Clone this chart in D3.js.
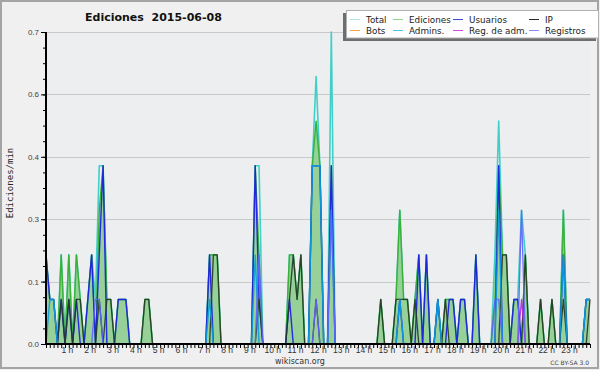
<!DOCTYPE html>
<html><head><meta charset="utf-8">
<script src="https://cdn.jsdelivr.net/npm/d3@7"></script>
<style>
html,body{margin:0;padding:0;background:#f0f0f0;}
svg{display:block;}
</style></head><body>
<svg id="chart" width="600" height="370"></svg>
<script>
// ---- data: edits per minute, one value per 10-minute bucket (144 buckets) ----
const hourLabels = ["1 h","2 h","3 h","4 h","5 h","6 h","7 h","8 h","9 h","10 h","11 h","12 h",
  "13 h","14 h","15 h","16 h","17 h","18 h","19 h","20 h","21 h","22 h","23 h"];
const yTickValues = [0, 0.14, 0.28, 0.42, 0.56, 0.7];
const seriesNames = ["Total","Ediciones","Usuarios","IP","Bots","Admins.","Reg. de adm.","Registros"];

const total = [
 0.2,0.1,0.1,0,0.2,0,   0.2,0,0.2,0.1,0,0.1,   0.2,0.1,0.4,0.4,0.1,0.1, 0,0.1,0.1,0.1,0,0,
 0,0,0.1,0.1,0,0,       0,0,0,0,0,0,           0,0,0,0,0,0,             0,0.2,0.2,0.2,0,0,
 0,0,0,0,0,0,           0,0.4,0.4,0,0,0,       0,0,0,0,0.2,0.2,         0.1,0.2,0,0,0.4,0.6,
 0.4,0,0,0.7,0,0,       0,0,0,0,0,0,           0,0,0,0,0.1,0,           0,0,0.1,0.3,0.1,0.1,
 0,0.1,0.2,0,0.2,0,     0,0.1,0,0.1,0.1,0.1,   0,0.1,0.1,0,0,0.2,       0,0,0,0,0.2,0.5,
 0.2,0.2,0,0.1,0.1,0.3, 0.2,0,0,0,0.1,0,       0,0.1,0,0,0.3,0,         0,0,0,0,0.1,0.1];
const ediciones = [
 0.2,0.1,0.1,0,0.2,0,   0.2,0,0.2,0.1,0,0.1,   0.2,0,0.3,0.4,0.1,0.1,   0,0.1,0.1,0.1,0,0,
 0,0,0.1,0.1,0,0,       0,0,0,0,0,0,           0,0,0,0,0,0,             0,0.2,0.2,0.2,0,0,
 0,0,0,0,0,0,           0,0.4,0.2,0,0,0,       0,0,0,0,0.2,0.2,         0.1,0.2,0,0,0.4,0.5,
 0.4,0,0,0.4,0,0,       0,0,0,0,0,0,           0,0,0,0,0.1,0,           0,0,0.1,0.3,0.1,0.1,
 0,0.1,0.2,0,0.2,0,     0,0.1,0,0.1,0.1,0.1,   0,0.1,0.1,0,0,0.2,       0,0,0,0,0.1,0.4,
 0.2,0.2,0,0.1,0.1,0,   0.2,0,0,0,0.1,0,       0,0.1,0,0,0.3,0,         0,0,0,0,0.1,0.1];
const usuarios = [
 0.2,0.1,0.1,0,0.1,0,   0.1,0,0.1,0,0,0.1,     0.2,0,0.2,0.4,0,0,       0,0.1,0.1,0.1,0,0,
 0,0,0,0,0,0,           0,0,0,0,0,0,           0,0,0,0,0,0,             0,0.2,0,0,0,0,
 0,0,0,0,0,0,           0,0.4,0.1,0,0,0,       0,0,0,0,0.1,0,           0,0,0,0,0.4,0.4,
 0.4,0,0,0.4,0,0,       0,0,0,0,0,0,           0,0,0,0,0,0,             0,0,0,0.1,0,0,
 0,0,0.2,0,0.2,0,       0,0.1,0,0,0.1,0.1,     0,0.1,0.1,0,0,0.2,       0,0,0,0,0,0.4,
 0,0,0,0.1,0.1,0,       0,0,0,0,0,0,           0,0,0,0,0.2,0,           0,0,0,0,0.1,0.1];
const ip = [
 0,0,0,0,0.1,0,         0.1,0,0.1,0.1,0,0,     0,0,0.1,0,0.1,0.1,       0,0,0,0,0,0,
 0,0,0.1,0.1,0,0,       0,0,0,0,0,0,           0,0,0,0,0,0,             0,0,0.2,0.2,0,0,
 0,0,0,0,0,0,           0,0,0.1,0,0,0,         0,0,0,0,0.1,0.2,         0.1,0.2,0,0,0,0.1,
 0,0,0,0,0,0,           0,0,0,0,0,0,           0,0,0,0,0.1,0,           0,0,0.1,0.1,0.1,0.1,
 0,0.1,0,0,0,0,         0,0,0,0.1,0,0,         0,0,0,0,0,0,             0,0,0,0,0,0,
 0.2,0.2,0,0,0,0,       0.2,0,0,0,0.1,0,       0,0.1,0,0,0.1,0,         0,0,0,0,0,0.1];
const bots = [
 0,0,0,0,0,0, 0,0,0,0,0,0, 0,0,0,0,0,0, 0,0,0,0,0,0,
 0,0,0,0,0,0, 0,0,0,0,0,0, 0,0,0,0,0,0, 0,0,0,0,0,0,
 0,0,0,0,0,0, 0,0,0,0,0,0, 0,0,0,0,0,0, 0,0,0,0,0,0,
 0,0,0,0,0,0, 0,0,0,0,0,0, 0,0,0,0,0,0, 0,0,0,0,0,0,
 0,0,0,0,0,0, 0,0,0,0,0,0, 0,0,0,0,0,0, 0,0,0,0,0,0,
 0,0,0,0,0,0, 0,0,0,0,0,0, 0,0,0,0,0,0, 0,0,0,0,0,0];
const admins = [
 0,0.1,0.1,0,0,0,       0,0,0,0,0,0,           0,0,0,0,0,0,             0,0,0,0,0,0,
 0,0,0,0,0,0,           0,0,0,0,0,0,           0,0,0,0,0,0,             0,0.1,0,0,0,0,
 0,0,0,0,0,0,           0,0.2,0,0,0,0,         0,0,0,0,0,0,             0,0,0,0,0.4,0.4,
 0.4,0,0,0.3,0,0,       0,0,0,0,0,0,           0,0,0,0,0,0,             0,0,0,0.1,0,0,
 0,0,0,0,0,0,           0,0.1,0,0,0,0,         0,0,0,0,0,0,             0,0,0,0,0,0.3,
 0,0,0,0,0,0,           0,0,0,0,0,0,           0,0,0,0,0.2,0,           0,0,0,0,0.1,0.1];
const regAdm = [
 0,0,0,0,0,0, 0,0,0,0,0,0, 0,0,0,0,0,0, 0,0,0,0,0,0,
 0,0,0,0,0,0, 0,0,0,0,0,0, 0,0,0,0,0,0, 0,0,0,0,0,0,
 0,0,0,0,0,0, 0,0,0,0,0,0, 0,0,0,0,0,0, 0,0,0,0,0,0,
 0,0,0,0,0,0, 0,0,0,0,0,0, 0,0,0,0,0,0, 0,0,0,0,0,0,
 0,0,0,0,0,0, 0,0,0,0,0,0, 0,0,0,0,0,0, 0,0,0,0,0,0,
 0,0,0,0,0,0.1, 0,0,0,0,0,0, 0,0,0,0,0,0, 0,0,0,0,0,0];
const registros = [
 0,0,0,0,0,0,           0,0,0,0,0,0,           0,0.1,0.1,0,0,0,         0,0,0,0,0,0,
 0,0,0,0,0,0,           0,0,0,0,0,0,           0,0,0,0,0,0,             0,0,0,0,0,0,
 0,0,0,0,0,0,           0,0,0.2,0,0,0,         0,0,0,0,0,0,             0,0,0,0,0,0.1,
 0,0,0,0.3,0,0,         0,0,0,0,0,0,           0,0,0,0,0,0,             0,0,0,0,0,0,
 0,0,0,0,0,0,           0,0,0,0,0,0,           0,0,0,0,0,0,             0,0,0,0,0.1,0.1,
 0,0,0,0,0,0.3,         0,0,0,0,0,0,           0,0,0,0,0,0,             0,0,0,0,0,0];

// ---- styles ----
const lineColors = {total:"#42cfc8", ediciones:"#38b238", usuarios:"#1c1ce8", ip:"#263826",
  bots:"#f0a040", admins:"#0c9ed8", regAdm:"#b030e0", registros:"#6262ff"};
const legendColors = ["#a6e3e1","#8fd48f","#4545d8","#2a2a2a","#f2a444","#4cc6e2","#d24cdc","#8a8af0"];

const svg = d3.select("#chart");
const L = 46, R = 590, T = 32, B = 344;
const x = d3.scaleLinear().domain([0, 143]).range([L, R]);
const y = d3.scaleLinear().domain([0, 0.7]).range([B, T]);

// background + frame
svg.append("rect").attr("x",0).attr("y",0).attr("width",600).attr("height",370).attr("fill","#f0f0f0");
svg.append("rect").attr("x",1).attr("y",1).attr("width",597).attr("height",367)
  .attr("fill","none").attr("stroke","#a4a4a4").attr("stroke-width",2);
svg.append("rect").attr("x",L).attr("y",T).attr("width",R-L).attr("height",B-T).attr("fill","#edeef0");

// grid
svg.append("g").selectAll("line").data(yTickValues.filter(v => v > 0)).join("line")
  .attr("x1",L).attr("x2",R).attr("y1",d=>Math.round(y(d))+0.5).attr("y2",d=>Math.round(y(d))+0.5)
  .attr("stroke","#c9c9c9").attr("stroke-width",1);

const idx = d3.range(total.length);
const line = arr => d3.line().x(i => x(i)).y(i => y(arr[i]))(idx);

// Total
svg.append("path").attr("d", line(total)).attr("fill","none")
  .attr("stroke",lineColors.total).attr("stroke-width",1.6).attr("stroke-linejoin","round");
// Ediciones area + line
svg.append("path").attr("d", d3.area().x(i=>x(i)).y0(B).y1(i=>y(ediciones[i]))(idx))
  .attr("fill","#8fcd90").attr("fill-opacity",0.92);
svg.append("path").attr("d", line(ediciones)).attr("fill","none")
  .attr("stroke",lineColors.ediciones).attr("stroke-width",1.4).attr("stroke-linejoin","round");
// others
const others = [
  [usuarios, lineColors.usuarios, 1.4],
  [ip, lineColors.ip, 1.3],
  [bots, lineColors.bots, 1.2],
  [admins, lineColors.admins, 1.4],
  [regAdm, lineColors.regAdm, 1.3],
  [registros, lineColors.registros, 1.3]
];
others.forEach(([arr, col, w]) => {
  svg.append("path").attr("d", line(arr)).attr("fill","none")
    .attr("stroke",col).attr("stroke-width",w).attr("stroke-linejoin","round").attr("stroke-opacity",0.92);
});

// x axis: minor ticks every 10 min
const xAxis = svg.append("g").attr("transform",`translate(0,${B})`)
  .call(d3.axisBottom(x).tickValues(d3.range(0,144)).tickSize(4).tickSizeOuter(0).tickFormat(""));
xAxis.select(".domain").remove();
xAxis.selectAll(".tick line").attr("stroke","#000").attr("stroke-width",1);
// hour labels
const hourIdx = hourLabels.map((_, k) => (k + 1) * 6);
const xLab = svg.append("g").attr("transform",`translate(-2,${B})`)
  .call(d3.axisBottom(x).tickValues(hourIdx).tickSize(0).tickPadding(2.5)
    .tickFormat((d, k) => hourLabels[k]));
xLab.select(".domain").remove();
xLab.selectAll("text").attr("font-family","'Liberation Sans',Arial,sans-serif")
  .attr("font-size",8.5).attr("fill","#333");

// y axis
const yMinor = svg.append("g").attr("transform",`translate(${L},0)`)
  .call(d3.axisLeft(y).tickValues(d3.range(0,21).map(k => k*0.035)).tickSize(3).tickFormat(""));
yMinor.select(".domain").remove();
yMinor.selectAll(".tick line").attr("stroke","#000");
const yAxis = svg.append("g").attr("transform",`translate(${L},0)`)
  .call(d3.axisLeft(y).tickValues(yTickValues).tickSize(5).tickSizeOuter(0).tickPadding(2)
    .tickFormat(d3.format(".1f")));
yAxis.select(".domain").remove();
yAxis.selectAll(".tick line").attr("stroke","#000");
yAxis.selectAll("text").attr("font-family","'Liberation Sans',Arial,sans-serif")
  .attr("font-size",8).attr("fill","#444");

// axis lines
svg.append("line").attr("x1",L).attr("x2",L).attr("y1",T).attr("y2",B+1)
  .attr("stroke","#000").attr("stroke-width",2);
svg.append("line").attr("x1",L-1).attr("x2",R).attr("y1",B).attr("y2",B)
  .attr("stroke","#000").attr("stroke-width",2);

// title & labels
svg.append("text").attr("x",85).attr("y",21).style("white-space","pre")
  .attr("font-family","'DejaVu Sans',sans-serif").attr("font-weight","bold").attr("font-size",11)
  .attr("fill","#111").text("Ediciones  2015-06-08");
svg.append("text").attr("transform","translate(13,183) rotate(-90)").attr("text-anchor","middle")
  .attr("font-family","'DejaVu Sans Mono',monospace").attr("font-size",9).attr("fill","#222")
  .text("Ediciones/min");
svg.append("text").attr("x",300).attr("y",364).attr("text-anchor","middle")
  .attr("font-family","'DejaVu Sans',sans-serif").attr("font-size",8).attr("fill","#333")
  .text("wikiscan.org");
svg.append("text").attr("x",589).attr("y",365).attr("text-anchor","end")
  .attr("font-family","'DejaVu Sans',sans-serif").attr("font-size",6).attr("fill","#444")
  .text("CC BY-SA 3.0");

// legend
const lg = svg.append("g");
lg.append("rect").attr("x",343).attr("y",13).attr("width",253).attr("height",28).attr("fill","#6e6e6e");
lg.append("rect").attr("x",346.5).attr("y",10.5).attr("width",252).attr("height",27.5)
  .attr("fill","#ffffff").attr("stroke","#b0b0b0").attr("stroke-width",1);
const colX = [350, 393, 453, 529];
const rowY = [19.5, 30.5];
seriesNames.forEach((nm, k) => {
  const cx = colX[k % 4], cy = rowY[Math.floor(k / 4)];
  lg.append("line").attr("x1",cx).attr("x2",cx+10).attr("y1",cy).attr("y2",cy)
    .attr("stroke",legendColors[k]).attr("stroke-width",1);
  lg.append("text").attr("x",cx+16).attr("y",cy+3.2)
    .attr("font-family","'DejaVu Sans',sans-serif").attr("font-size",8.8).attr("fill","#222")
    .text(nm);
});
</script>
</body></html>
